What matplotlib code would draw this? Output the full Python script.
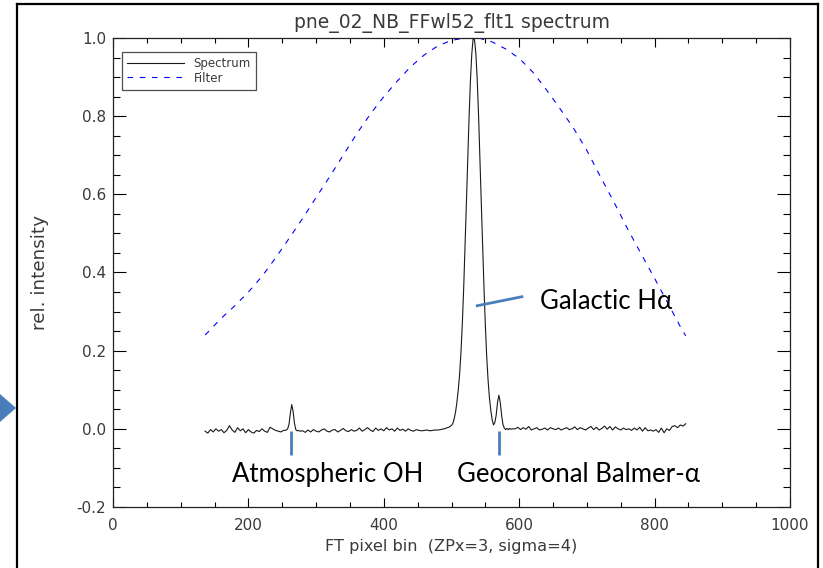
import numpy as np
import matplotlib
matplotlib.use("Agg")
import matplotlib.pyplot as plt
from matplotlib.lines import Line2D
from matplotlib.patches import Polygon
from matplotlib.ticker import MultipleLocator, FuncFormatter

# ---------------- data ----------------
# spectrum, segment A: baseline, bins 136..252 step 4
spec_a_start, spec_a_step = 136, 4
spec_a = [-0.006, -0.011, -0.002, -0.008, 0.000, -0.006, -0.002, -0.010, -0.004, 0.008,
          -0.003, -0.009, 0.003, -0.005, 0.000, -0.010, -0.002, -0.008, -0.011, -0.004,
          -0.007, 0.000, -0.006, -0.009, 0.004, 0.000, -0.004, -0.006, -0.008, -0.004]
# segment B: atmospheric OH line, bins 254..276 step 2
spec_b_start, spec_b_step = 254, 2
spec_b = [-0.004, -0.003, 0.000, 0.012, 0.040, 0.062, 0.045, 0.015, -0.002, -0.005, -0.004, -0.006]
# segment C: baseline, bins 280..488 step 4
spec_c_start, spec_c_step = 280, 4
spec_c = [-0.005, -0.009, -0.003, -0.008, -0.002, -0.006, -0.008, -0.003, 0.000, -0.006,
          -0.008, -0.003, -0.002, -0.008, -0.004, 0.001, -0.005, -0.007, -0.002, -0.006,
          -0.004, 0.002, -0.006, -0.002, 0.003, -0.003, -0.007, 0.002, -0.004, 0.000,
          -0.005, 0.003, -0.003, 0.000, -0.006, 0.002, -0.004, -0.001, -0.006, 0.000,
          -0.004, -0.006, -0.002, -0.004, -0.005, -0.004, -0.003, -0.005, -0.004, -0.003,
          -0.003, -0.002, 0.000]
# segment D: galactic H-alpha + geocoronal Balmer-alpha, bins 490..590 step 2
spec_d_start, spec_d_step = 490, 2
spec_d = [0.000, 0.002, 0.003, 0.004, 0.006, 0.009, 0.014, 0.026, 0.043, 0.068,
          0.100, 0.140, 0.196, 0.270, 0.360, 0.465, 0.578, 0.693, 0.800, 0.893,
          0.960, 1.000, 0.995, 0.960, 0.893, 0.800, 0.693, 0.578, 0.465, 0.360,
          0.265, 0.185, 0.125, 0.080, 0.048, 0.024, 0.010, 0.016, 0.035, 0.068,
          0.086, 0.068, 0.035, 0.011, 0.002, -0.002, 0.001, -0.002, 0.001, -0.001,
          0.000]
# segment E: baseline, bins 594..846 step 4
spec_e_start, spec_e_step = 594, 4
spec_e = [0.000, 0.004, -0.002, 0.003, -0.001, 0.006, -0.003, 0.000, 0.003, -0.003,
          -0.001, 0.002, -0.003, 0.003, 0.000, -0.002, 0.002, -0.003, 0.000, 0.003,
          -0.002, 0.000, 0.005, -0.002, 0.003, 0.000, -0.003, 0.002, 0.006, -0.002,
          0.004, -0.003, 0.001, 0.007, -0.001, 0.006, -0.003, 0.005, 0.000, -0.003,
          0.002, -0.002, 0.000, -0.004, 0.002, -0.003, 0.004, -0.006, 0.003, -0.005,
          -0.003, -0.006, -0.002, -0.009, 0.002, -0.010, 0.000, -0.004, 0.006, 0.008,
          0.003, 0.010, 0.007, 0.013]

# filter transmission curve
filter_x = [136, 140, 160, 180, 200, 220, 240, 260, 280, 300, 320, 340, 360, 380, 400,
            420, 440, 460, 480, 500, 520, 540, 560, 580, 600, 620, 640, 660, 680, 700,
            720, 740, 760, 780, 800, 820, 840, 846]
filter_y = [0.240, 0.247, 0.283, 0.315, 0.350, 0.390, 0.437, 0.487, 0.538, 0.592, 0.645,
            0.700, 0.755, 0.805, 0.850, 0.890, 0.927, 0.957, 0.980, 0.994, 1.000, 1.000,
            0.990, 0.972, 0.948, 0.913, 0.868, 0.820, 0.770, 0.712, 0.645, 0.580, 0.512,
            0.448, 0.385, 0.320, 0.255, 0.238]

# line identifications
oh_bin = 263
geo_bin = 570
halpha_bin = 538

title_text = "pne_02_NB_FFwl52_flt1 spectrum"
xlabel_text = "FT pixel bin  (ZPx=3, sigma=4)"
ylabel_text = "rel. intensity"

# ---------------- build spectrum arrays ----------------
segments = [(spec_a_start, spec_a_step, spec_a), (spec_b_start, spec_b_step, spec_b),
            (spec_c_start, spec_c_step, spec_c), (spec_d_start, spec_d_step, spec_d),
            (spec_e_start, spec_e_step, spec_e)]
spec_x = np.concatenate([s + st * np.arange(len(v)) for s, st, v in segments])
spec_y = np.concatenate([np.array(v) for _, _, v in segments])

# ---------------- figure ----------------
W, H = 823, 568
fig = plt.figure(figsize=(W / 100, H / 100), dpi=100)
fig.patch.set_facecolor("white")

ax_l, ax_r, ax_t, ax_b = 113, 790, 38, 507
ax = fig.add_axes([ax_l / W, 1 - ax_b / H, (ax_r - ax_l) / W, (ax_b - ax_t) / H])

ax.plot(spec_x, spec_y, color="#1a1a1a", lw=0.8, label="Spectrum")
ax.plot(filter_x, filter_y, color="#0000ff", lw=0.8, ls=(0, (5, 6)), label="Filter")

ax.set_xlim(0, 1000)
ax.set_ylim(-0.2, 1.0)
ax.xaxis.set_major_locator(MultipleLocator(200))
ax.xaxis.set_minor_locator(MultipleLocator(50))
ax.yaxis.set_major_locator(MultipleLocator(0.2))
ax.yaxis.set_minor_locator(MultipleLocator(0.05))
ax.xaxis.set_major_formatter(FuncFormatter(lambda v, p: f"{v:.0f}"))
ax.yaxis.set_major_formatter(FuncFormatter(lambda v, p: f"{v:.1f}"))

tick_col = "#3a3a3a"
ax.tick_params(axis="x", which="major", direction="in", length=6.8, width=0.8,
               top=True, bottom=True, pad=8, labelsize=11, labelcolor=tick_col)
ax.tick_params(axis="x", which="minor", direction="in", length=3.4, width=0.8,
               top=True, bottom=True)
ax.tick_params(axis="y", which="major", direction="in", length=9.7, width=0.8,
               left=True, right=True, pad=5, labelsize=11, labelcolor=tick_col)
ax.tick_params(axis="y", which="minor", direction="in", length=4.9, width=0.8,
               left=True, right=True)
for sp in ax.spines.values():
    sp.set_linewidth(0.9)
    sp.set_color("#222222")

ax.set_title(title_text, fontsize=13.5, color=tick_col, pad=7)
ax.set_xlabel(xlabel_text, fontsize=11.6, color=tick_col, labelpad=4)
ax.set_ylabel(ylabel_text, fontsize=13.2, color=tick_col)
ax.yaxis.set_label_coords((49 - ax_l) / (ax_r - ax_l), 0.5)

leg = ax.legend(loc="upper left", bbox_to_anchor=(0.0133, 0.970), borderaxespad=0,
                fontsize=8.5, frameon=True, fancybox=False, edgecolor="#222222",
                handlelength=4.8, handletextpad=0.8, labelspacing=0.1, borderpad=0.45)
leg.get_frame().set_linewidth(0.9)
for t in leg.get_texts():
    t.set_color(tick_col)

# ---------------- annotations ----------------
ann_col = "#4a7ebb"
ann_font = ["Lato", "DejaVu Sans"]
ax.plot([oh_bin, oh_bin], [-0.005, -0.066], color=ann_col, lw=2, solid_capstyle="butt")
ax.plot([geo_bin, geo_bin], [-0.005, -0.066], color=ann_col, lw=2, solid_capstyle="butt")
ax.plot([halpha_bin, 604], [0.315, 0.338], color=ann_col, lw=2)
ax.text(176, -0.118, "Atmospheric OH", fontsize=18.5, family=ann_font, color="black",
        va="center", ha="left")
ax.text(508, -0.118, "Geocoronal Balmer-α", fontsize=18.5, family=ann_font, color="black",
        va="center", ha="left")
ax.text(631, 0.325, "Galactic Hα", fontsize=18.5, family=ann_font, color="black",
        va="center", ha="left")

# ---------------- outer slide frame and arrow ----------------
fr = 1.6
fig.add_artist(Line2D([17 / W, 17 / W], [0, 1 - 4 / H], transform=fig.transFigure,
                      color="black", lw=fr))
fig.add_artist(Line2D([17 / W, 818 / W], [1 - 4 / H, 1 - 4 / H], transform=fig.transFigure,
                      color="black", lw=fr))
fig.add_artist(Line2D([818 / W, 818 / W], [0, 1 - 4 / H], transform=fig.transFigure,
                      color="black", lw=fr))
fig.add_artist(Polygon([[0, 1 - 394 / H], [16 / W, 1 - 408 / H], [0, 1 - 422 / H]],
                       closed=True, transform=fig.transFigure, facecolor=ann_col,
                       edgecolor="none"))

fig.savefig("out.png", dpi=100, facecolor="white")
